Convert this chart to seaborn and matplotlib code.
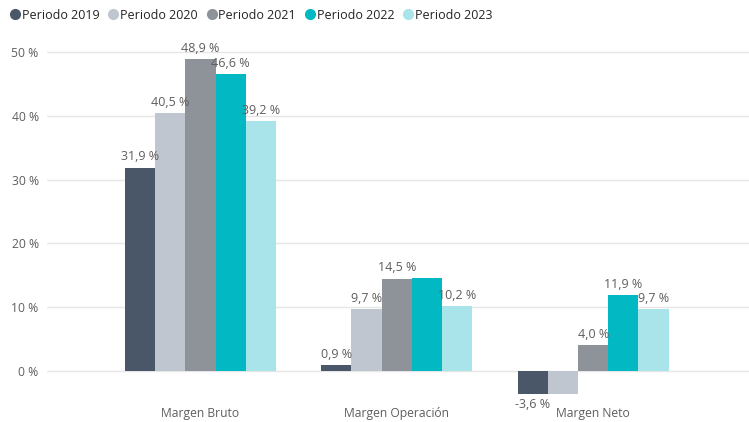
import pandas as pd
import matplotlib
matplotlib.use("Agg")
import matplotlib.pyplot as plt
from matplotlib.lines import Line2D
import seaborn as sns

categories = ["Margen Bruto", "Margen Operación", "Margen Neto"]
periods = ["Periodo 2019", "Periodo 2020", "Periodo 2021", "Periodo 2022", "Periodo 2023"]
p2019 = [31.9, 0.9, -3.6]
p2020 = [40.5, 9.7, -3.6]
p2021 = [48.9, 14.5, 4.0]
p2022 = [46.6, 14.6, 11.9]
p2023 = [39.2, 10.2, 9.7]
colors = ["#4A5768", "#C0C6D0", "#8E9299", "#01B8C3", "#A8E4EA"]
# labels that the original chart dropped because of overlap
hidden = [("Margen Operación", "Periodo 2022"), ("Margen Neto", "Periodo 2020")]

rows = []
for per, vals in zip(periods, [p2019, p2020, p2021, p2022, p2023]):
    for cat, v in zip(categories, vals):
        rows.append({"cat": cat, "period": per, "val": v})
data = pd.DataFrame(rows)

sns.set_theme(style="white")
plt.rcParams["font.family"] = ["Open Sans", "DejaVu Sans"]
text_col = "#605E5C"

fig = plt.figure(figsize=(7.49, 4.22), dpi=100)
ax = fig.add_axes([47 / 749, 22 / 422, 1 - 47 / 749, (400 - 35) / 422])

sns.barplot(data=data, x="cat", y="val", hue="period", palette=colors,
            width=0.77, saturation=1, ax=ax, legend=False, linewidth=0)

for per, cont in zip(periods, ax.containers):
    vals = data[data["period"] == per]["val"].tolist()
    labels = []
    for cat, v in zip(categories, vals):
        if (cat, per) in hidden:
            labels.append("")
        else:
            labels.append(f"{v:.1f} %".replace(".", ","))
    ax.bar_label(cont, labels=labels, padding=3, fontsize=9, color=text_col)

ax.set_xlim(-0.782, 2.794)
ax.set_ylim(-4.55, 52.7)
ax.set_yticks([0, 10, 20, 30, 40, 50])
ax.set_yticklabels([f"{t} %" for t in [0, 10, 20, 30, 40, 50]])
ax.yaxis.grid(True, color="#E6E6E6", linewidth=1)
ax.set_axisbelow(True)
ax.tick_params(axis="both", length=0, labelsize=8.7, labelcolor=text_col)
ax.tick_params(axis="y", pad=6)
ax.tick_params(axis="x", pad=5)
ax.set_xlabel("")
ax.set_ylabel("")
for s in ax.spines.values():
    s.set_visible(False)

handles = [Line2D([], [], marker="o", linestyle="", markersize=7,
                  markerfacecolor=c, markeredgecolor=c) for c in colors]
fig.legend(handles, periods, loc="upper left", bbox_to_anchor=(0.0, 1.0),
           ncol=5, frameon=False, fontsize=9, handletextpad=0.05,
           columnspacing=0.6, handlelength=1.0, borderaxespad=0.3,
           labelcolor="#252423")

fig.savefig("out.png", dpi=100)
